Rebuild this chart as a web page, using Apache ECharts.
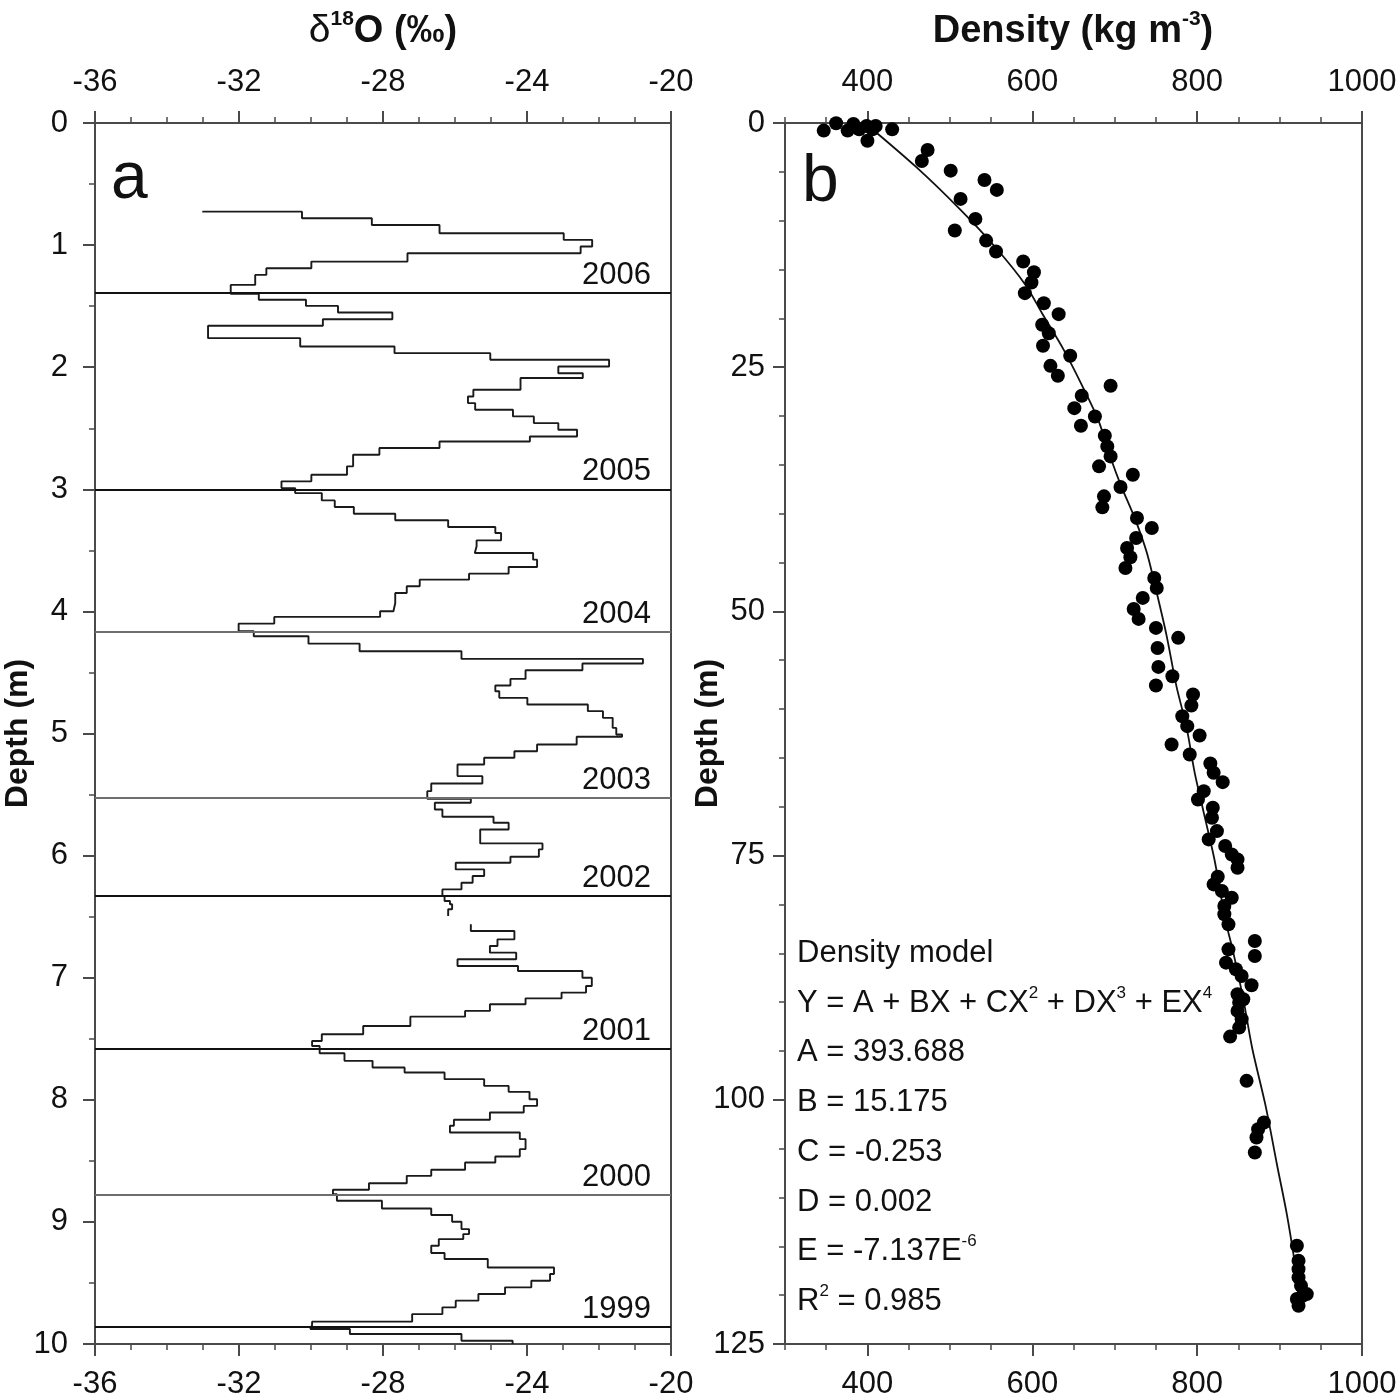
<!DOCTYPE html>
<html>
<head>
<meta charset="utf-8">
<script src="https://cdn.jsdelivr.net/npm/echarts@6/dist/echarts.min.js"></script>
<style>
  html, body { margin: 0; padding: 0; background: #fff; }
  #chart { width: 1400px; height: 1400px; }
</style>
</head>
<body>
<div id="chart"></div>
<script>
// panel a: d18O profile, each value starts at the depth of its horizontal step (null = core gap)
const isoDepth = [0.726, 0.726, 0.780, 0.835, 0.903, 0.957, 1.012, 1.067, 1.135, 1.189, 1.244, 1.326,
  1.399, 1.448, 1.498, 1.552, 1.607, 1.661, 1.762, 1.830, 1.885, 1.939, 1.994, 2.049, 2.089, 2.185,
  2.240, 2.294, 2.349, 2.403, 2.458, 2.512, 2.567, 2.608, 2.662, 2.717, 2.812, 2.881, 2.935, 2.990,
  3.031, 3.091, 3.145, 3.200, 3.254, 3.309, 3.358, 3.418, 3.467, 3.522, 3.576, 3.636, 3.691, 3.740,
  3.794, 3.849, 3.931, 3.999, 4.045, 4.100, 4.163, 4.204, 4.264, 4.326, 4.389, 4.427, 4.482, 4.553,
  4.607, 4.654, 4.708, 4.763, 4.817, 4.872, 4.954, 5.008, 5.027, 5.090, 5.145, 5.199, 5.254, 5.349,
  5.409, 5.472, 5.535, 5.567, 5.622, 5.682, 5.731, 5.786, 5.900, 5.949, 6.009, 6.058, 6.113, 6.167,
  6.222, 6.277, 6.331, 6.372, 6.399, 6.440, 6.495, 6.563, 6.618, 6.686, 6.740, 6.795, 6.849, 6.904,
  6.945, 7.000, 7.068, 7.122, 7.169, 7.218, 7.272, 7.319, 7.395, 7.463, 7.518, 7.559, 7.619, 7.681,
  7.736, 7.777, 7.831, 7.886, 7.935, 7.995, 8.050, 8.104, 8.164, 8.213, 8.268, 8.322, 8.404, 8.464,
  8.513, 8.573, 8.623, 8.683, 8.737, 8.773, 8.827, 8.890, 8.944, 8.999, 9.059, 9.100, 9.141, 9.195,
  9.255, 9.304, 9.373, 9.427, 9.482, 9.536, 9.591, 9.645, 9.700, 9.755, 9.817, 9.845, 9.877, 9.918,
  9.973];
const isoValue = [-33.02, -30.25, -28.31, -26.43, -22.98, -22.19, -22.51, -27.32, -29.99, -31.24, -31.55, -32.23,
  -31.45, -30.14, -29.25, -27.74, -29.67, -32.86, -30.30, -27.68, -25.02, -21.72, -23.13, -22.45, -24.18, -25.49,
  -25.64, -25.44, -24.39, -23.81, -23.13, -22.61, -23.92, -26.43, -28.10, -28.83, -29.00, -29.99, -30.82, -30.44,
  -29.70, -29.34, -28.81, -27.66, -26.19, -24.88, -24.72, -25.40, -25.45, -23.83, -23.72, -24.51, -25.61, -26.98,
  -27.34, -27.66, -27.71, -28.08, -31.02, -32.01, -31.59, -30.07, -28.65, -25.82, -20.78, -22.46, -24.04, -24.46,
  -24.88, -24.77, -23.99, -22.31, -21.89, -21.62, -21.52, -21.36, -22.62, -23.72, -24.35, -25.19, -25.93, -25.24,
  -26.66, -26.77, -25.56, -26.56, -26.35, -24.93, -24.51, -25.30, -23.57, -23.67, -24.46, -25.98, -25.19, -25.51,
  -25.82, -26.35, -26.29, -26.14, -26.08, -26.19, null, -25.56, -24.35, -24.82, -25.03, -24.30, -25.93, -24.25,
  -22.46, -22.20, -22.36, -23.04, -24.04, -25.03, -25.72, -27.24, -28.55, -29.70, -29.97, -29.76, -29.07, -28.29,
  -27.40, -26.29, -25.19, -24.51, -23.93, -23.72, -24.09, -25.03, -26.03, -26.14, -24.20, -24.04, -24.20, -24.88,
  -25.72, -26.66, -27.34, -28.39, -29.39, -29.28, -28.03, -26.66, -26.08, -25.82, -25.61, -25.77, -26.45, -26.66,
  -26.29, -25.09, -23.25, -23.36, -23.88, -24.61, -25.35, -25.98, -26.35, -27.19, -29.97, -30.02, -28.92, -25.82,
  -24.40];
const isoEndDepth = 10.0;

// annual layer boundaries
const yearDepth = [1.39, 3.0, 4.165, 5.53, 6.335, 7.578, 8.783, 9.862];
const yearLabel = ['2006', '2005', '2004', '2003', '2002', '2001', '2000', '1999'];

// panel b: measured density
const densDepth = [0.78, 0.03, 0.78, 0.10, 0.65, 0.31, 1.81, 0.65, 0.31, 0.65, 2.76, 3.89, 4.88, 5.83, 6.85, 7.77,
  9.82, 11.01, 12.04, 13.16, 14.18, 15.28, 16.33, 17.42, 18.45, 19.57, 20.66, 21.52, 22.81, 23.83, 24.86, 25.88,
  26.90, 27.93, 29.19, 30.04, 30.99, 32.02, 33.11, 34.13, 35.15, 36.01, 37.27, 38.22, 39.35, 40.44, 41.46, 42.48,
  43.51, 44.46, 45.55, 46.58, 47.60, 48.62, 49.75, 50.77, 51.69, 52.71, 53.74, 55.68, 56.64, 57.59, 58.51, 59.64,
  60.73, 61.75, 62.70, 63.63, 64.65, 65.57, 66.52, 67.48, 68.40, 69.25, 70.10, 71.13, 72.49, 73.34, 74.02, 74.88,
  75.39, 76.24, 77.16, 77.95, 78.63, 79.31, 80.16, 81.01, 82.04, 83.74, 84.60, 85.28, 85.96, 86.64, 87.32, 88.28,
  89.20, 89.71, 90.05, 90.90, 91.76, 92.61, 93.53, 98.06, 102.33, 103.01, 103.86, 105.39, 114.94, 116.48, 117.33,
  118.18, 119.03, 119.89, 120.06, 120.40, 121.08];
const densValue = [347, 362, 376, 383, 390, 399, 400, 406, 410, 430, 473, 466, 501, 542, 557, 513,
  531, 506, 544, 556, 589, 602, 599, 591, 614, 632, 612, 620, 613, 646, 622, 631,
  695, 660, 651, 676, 659, 688, 691, 695, 681, 722, 707, 687, 685, 727, 745, 726,
  715, 719, 713, 748, 751, 734, 723, 729, 750, 777, 752, 753, 770, 750, 795, 793,
  782, 788, 803, 769, 791, 816, 820, 831, 808, 801, 819, 818, 824, 814, 834, 842,
  849, 849, 825, 820, 830, 842, 833, 833, 838, 870, 838, 870, 835, 847, 854, 866,
  849, 856, 851, 849, 854, 851, 840, 860, 881, 874, 872, 870, 921, 923, 923,
  923, 926, 933, 928, 921, 923];

// fitted density model
const fitDepth = [0, 4.5, 8.9, 12.8, 16.6, 19.5, 23.2, 26.8, 30.4, 34.5, 37.2, 40.6, 44.0, 48.1, 52.5, 57.7,
  61.8, 66.5, 70.6, 75.4, 81.5, 84.6, 89.7, 94.8, 100.6, 106.7, 111.8, 117.0, 121.4];
const fitDensity = [397, 459, 513, 556, 592, 612, 638, 660, 680, 696, 708, 725, 739, 751, 763, 775,
  787, 797, 808, 821, 834, 843, 856, 867, 883, 897, 909, 919, 926];

const densLabels = [400, 600, 800, 1000];

const modelLines = ['Density model', 'Y = A + BX + CX{s|2} + DX{s|3} + EX{s|4}', 'A = 393.688', 'B = 15.175',
  'C = -0.253', 'D = 0.002', 'E = -7.137E{s|-6}', 'R{s|2} = 0.985'];

// build the stepped profile: vertical at each value, horizontal at each sample boundary
let isoPts = [];
let prev = null;
for (let i = 0; i < isoDepth.length; i++) {
  const d = isoDepth[i], v = isoValue[i];
  if (v === null) {
    if (prev !== null) isoPts.push([prev, d]);
    isoPts.push(['-', '-']);
    prev = null;
    continue;
  }
  if (prev !== null) isoPts.push([prev, d]);
  isoPts.push([v, d]);
  prev = v;
}
isoPts.push([prev, isoEndDepth]);

const FONT = 'Liberation Sans, Arial, Helvetica, sans-serif';
const AX = '#4a4a4a';
const LBL = { fontSize: 31, color: '#111', fontFamily: FONT, margin: 25, formatter: v => String(v) };

function xAxisBase(grid, pos, extra) {
  return Object.assign({
    type: 'value', gridIndex: grid, position: pos,
    axisLine: { show: true, onZero: false, lineStyle: { color: AX, width: 2 } },
    axisTick: { show: true, inside: false, length: 12, lineStyle: { color: AX, width: 2 } },
    axisLabel: Object.assign({ show: true }, LBL),
    splitLine: { show: false }
  }, extra);
}

function yAxisBase(grid, max, interval, minorSplit, labelMargin) {
  return {
    type: 'value', gridIndex: grid, inverse: true, min: 0, max: max, interval: interval,
    name: 'Depth (m)', nameLocation: 'middle', nameGap: 61, nameRotate: 90, nameMoveOverlap: false,
    nameTextStyle: { fontSize: 32, fontWeight: 'bold', color: '#111', fontFamily: FONT },
    axisLine: { show: true, onZero: false, lineStyle: { color: AX, width: 2 } },
    axisTick: { show: true, length: 12, lineStyle: { color: AX, width: 2 } },
    minorTick: { show: true, splitNumber: minorSplit, length: 6, lineStyle: { color: AX, width: 1.5 } },
    axisLabel: Object.assign({}, LBL, { margin: labelMargin }),
    splitLine: { show: false }
  };
}

const chart = echarts.init(document.getElementById('chart'));

const option = {
  animation: false,
  backgroundColor: '#fff',
  grid: [
    { left: 95, top: 123, width: 576, height: 1222, show: true, borderColor: AX, borderWidth: 2 },
    { left: 785, top: 123, width: 577, height: 1222, show: true, borderColor: AX, borderWidth: 2 }
  ],
  xAxis: [
    xAxisBase(0, 'bottom', { min: -36, max: -20, interval: 4,
      minorTick: { show: true, splitNumber: 4, length: 6, lineStyle: { color: AX, width: 1.5 } } }),
    xAxisBase(0, 'top', { min: -36, max: -20, interval: 4,
      minorTick: { show: true, splitNumber: 4, length: 6, lineStyle: { color: AX, width: 1.5 } } }),
    // density axis: short ticks every 50, long ticks + labels at the labelled values
    xAxisBase(1, 'bottom', { min: 300, max: 1000, interval: 50,
      axisTick: { show: true, length: 6, lineStyle: { color: AX, width: 1.5 } },
      axisLabel: { show: false } }),
    xAxisBase(1, 'bottom', { min: 300, max: 1000, interval: 50,
      axisTick: { show: true, length: 12, customValues: densLabels, lineStyle: { color: AX, width: 2 } },
      axisLabel: Object.assign({ show: true, customValues: densLabels }, LBL) }),
    xAxisBase(1, 'top', { min: 300, max: 1000, interval: 50,
      axisTick: { show: true, length: 6, lineStyle: { color: AX, width: 1.5 } },
      axisLabel: { show: false } }),
    xAxisBase(1, 'top', { min: 300, max: 1000, interval: 50,
      axisTick: { show: true, length: 12, customValues: densLabels, lineStyle: { color: AX, width: 2 } },
      axisLabel: Object.assign({ show: true, customValues: densLabels }, LBL) })
  ],
  yAxis: [
    yAxisBase(0, 10, 1, 2, 27),
    yAxisBase(1, 125, 25, 5, 20)
  ],
  series: [
    {
      name: 'd18O', type: 'line', xAxisIndex: 0, yAxisIndex: 0,
      data: isoPts, showSymbol: false, symbol: 'none', connectNulls: false,
      lineStyle: { color: '#1a1a1a', width: 1.9 },
      silent: true,
      markLine: {
        silent: true, symbol: 'none', animation: false,
        label: { show: true, position: 'insideEndTop', formatter: p => p.name,
          fontSize: 31, color: '#111', fontFamily: FONT, distance: [20, 2] },
        data: yearDepth.map((d, i) => ({
          name: yearLabel[i], yAxis: d,
          lineStyle: { color: (i === 2 || i === 3 || i === 6) ? '#6e6e6e' : '#111', width: 2, type: 'solid' }
        }))
      }
    },
    {
      name: 'model', type: 'line', xAxisIndex: 2, yAxisIndex: 1,
      data: fitDepth.map((d, i) => [fitDensity[i], d]),
      showSymbol: false, symbol: 'none', smooth: 0.3,
      lineStyle: { color: '#111', width: 1.8 }, silent: true, z: 3
    },
    {
      name: 'density', type: 'scatter', xAxisIndex: 2, yAxisIndex: 1,
      data: densDepth.map((d, i) => [densValue[i], d]),
      symbol: 'circle', symbolSize: 14,
      itemStyle: { color: '#000', opacity: 1 }, silent: true, z: 4
    }
  ],
  graphic: [
    { type: 'text', left: 111, top: 147, style: { text: 'a', font: '66px ' + FONT, fill: '#111' } },
    { type: 'text', left: 802, top: 150, style: { text: 'b', font: '66px ' + FONT, fill: '#111' } },
    {
      type: 'text', x: 383, y: 30,
      style: {
        text: '{n|δ}{s|18}{b|O (‰)}', align: 'center', verticalAlign: 'middle', fill: '#111',
        rich: {
          n: { fontSize: 39, fontFamily: FONT, lineHeight: 42, verticalAlign: 'bottom' },
          s: { fontSize: 21, fontFamily: FONT, fontWeight: 'bold', lineHeight: 42, verticalAlign: 'top' },
          b: { fontSize: 38, fontFamily: FONT, fontWeight: 'bold', lineHeight: 42, verticalAlign: 'bottom' }
        }
      }
    },
    {
      type: 'text', x: 1073, y: 30,
      style: {
        text: '{b|Density (kg m}{s|-3}{b|)}', align: 'center', verticalAlign: 'middle', fill: '#111',
        rich: {
          s: { fontSize: 21, fontFamily: FONT, fontWeight: 'bold', lineHeight: 42, verticalAlign: 'top' },
          b: { fontSize: 38, fontFamily: FONT, fontWeight: 'bold', lineHeight: 42, verticalAlign: 'bottom' }
        }
      }
    }
  ].concat(modelLines.map((t, i) => ({
    type: 'text', x: 797, y: 952 + i * 49.7,
    style: {
      text: '{m|' + t.replace(/\{s\|([^}]*)\}/g, '}{s|$1}{m|') + '}',
      align: 'left', verticalAlign: 'middle', fill: '#111',
      rich: {
        m: { fontSize: 31, fontFamily: FONT, lineHeight: 34, verticalAlign: 'bottom' },
        s: { fontSize: 17, fontFamily: FONT, lineHeight: 34, verticalAlign: 'top' }
      }
    }
  })))
};

chart.setOption(option);
</script>
</body>
</html>
